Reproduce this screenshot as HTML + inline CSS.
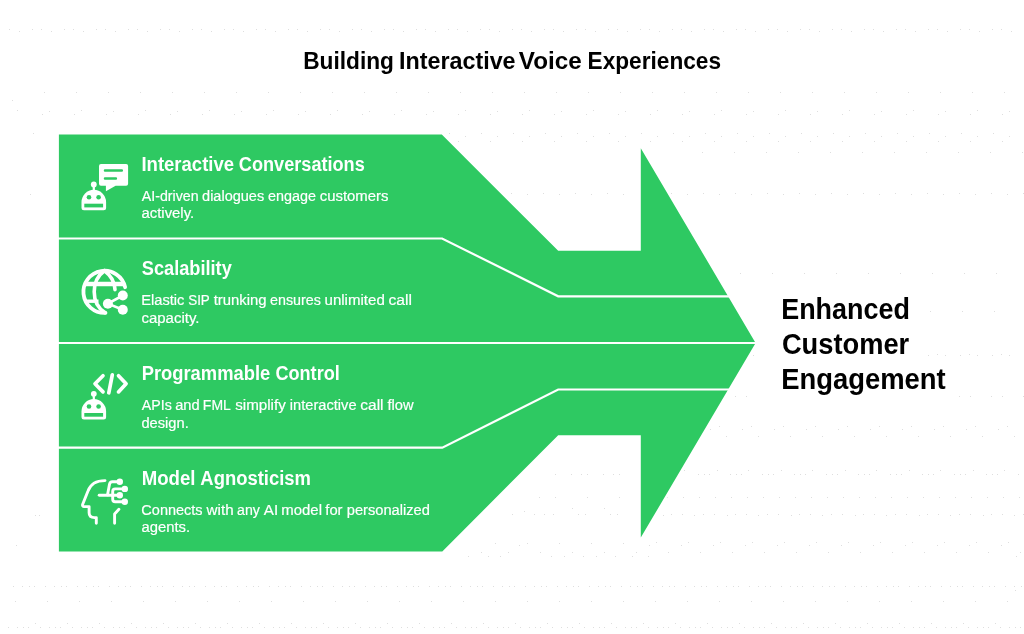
<!DOCTYPE html>
<html>
<head>
<meta charset="utf-8">
<title>Building Interactive Voice Experiences</title>
<style>
  html, body { margin: 0; padding: 0; background: #ffffff; }
  body { width: 1024px; height: 634px; overflow: hidden; font-family: "Liberation Sans", sans-serif; }
  svg { display: block; will-change: transform; }
  text { font-family: "Liberation Sans", sans-serif; }
  .h { font-weight: bold; font-size: 19.5px; fill: #ffffff; }
  .d { font-weight: normal; font-size: 15.3px; fill: #ffffff; stroke: #ffffff; stroke-width: 0.2px; }
  .t { font-weight: bold; font-size: 23.6px; fill: #000000; }
  .r { font-weight: bold; font-size: 30.2px; fill: #000000; }
</style>
</head>
<body>
<svg width="1024" height="634" viewBox="0 0 1024 634">
  <rect x="0" y="0" width="1024" height="634" fill="#ffffff"/>
  <defs>
    <pattern id="dots" x="0" y="0" width="64" height="634" patternUnits="userSpaceOnUse">
      <path fill="#dedede" shape-rendering="crispEdges" d="M0 29h1v1h-1zM9 29h1v1h-1zM32 29h1v1h-1zM41 29h1v1h-1zM19 31h1v1h-1zM51 31h1v1h-1zM12 92h1v1h-1zM44 92h1v1h-1zM17 110h1v1h-1zM49 111h1v1h-1zM10 114h1v1h-1zM42 114h1v1h-1zM1 133h1v1h-1zM33 133h1v1h-1zM17 136h1v1h-1zM49 136h1v1h-1zM10 141h1v1h-1zM42 141h1v1h-1zM30 152h1v1h-1zM62 152h1v1h-1zM31 193h1v1h-1zM63 193h1v1h-1zM15 194h1v1h-1zM47 194h1v1h-1zM4 273h1v1h-1zM36 273h1v1h-1zM2 311h1v1h-1zM34 311h1v1h-1zM9 354h1v1h-1zM41 354h1v1h-1zM0 355h1v1h-1zM17 355h1v1h-1zM32 355h1v1h-1zM49 355h1v1h-1zM10 396h1v1h-1zM31 396h1v1h-1zM42 396h1v1h-1zM63 396h1v1h-1zM15 426h1v1h-1zM47 426h1v1h-1zM6 429h1v1h-1zM38 429h1v1h-1zM22 436h1v1h-1zM54 436h1v1h-1zM13 470h1v1h-1zM44 470h1v1h-1zM0 474h1v1h-1zM5 474h1v1h-1zM26 474h1v1h-1zM32 474h1v1h-1zM37 474h1v1h-1zM58 474h1v1h-1zM11 497h1v1h-1zM27 497h1v1h-1zM43 497h1v1h-1zM59 497h1v1h-1zM10 514h1v1h-1zM31 514h1v1h-1zM42 514h1v1h-1zM63 514h1v1h-1zM23 515h1v1h-1zM54 515h1v1h-1zM16 542h1v1h-1zM48 542h1v1h-1zM9 545h1v1h-1zM41 545h1v1h-1zM28 552h1v1h-1zM60 552h1v1h-1zM2 586h1v1h-1zM13 586h1v1h-1zM22 586h1v1h-1zM29 586h1v1h-1zM34 586h1v1h-1zM45 586h1v1h-1zM54 586h1v1h-1zM61 586h1v1h-1zM15 601h1v1h-1zM47 601h1v1h-1zM3 623h1v1h-1zM35 623h1v1h-1zM8 627h1v1h-1zM17 627h1v1h-1zM23 627h1v1h-1zM28 627h1v1h-1zM40 627h1v1h-1zM49 627h1v1h-1zM55 627h1v1h-1zM60 627h1v1h-1z"/>
    </pattern>
  </defs>
  <rect x="0" y="0" width="1024" height="634" fill="url(#dots)"/>
  <rect x="0" y="125" width="58" height="435" fill="#ffffff"/>
  <rect x="12" y="92" width="1" height="1" fill="#ffffff"/>
  <path fill="#dedede" shape-rendering="crispEdges" d="M1016 556h1v1h-1zM1015 590h1v1h-1zM12 100h1v1h-1zM33 133h1v1h-1zM30 194h1v1h-1zM35 515h1v1h-1zM39 515h1v1h-1zM16 545h1v1h-1z"/>


  <!-- local dot corrections -->
  <rect x="0" y="0" width="7" height="634" fill="#ffffff"/>
  <rect x="10" y="114" width="1" height="1" fill="#ffffff"/>
  <rect x="760" y="290" width="167" height="85" fill="#ffffff"/>
  <rect x="760" y="375" width="198" height="26" fill="#ffffff"/>
  <rect x="440" y="152" width="250" height="1" fill="#ffffff"/>
  <rect x="0" y="552" width="470" height="1" fill="#ffffff"/>
  <rect x="442" y="436" width="199" height="124" fill="#ffffff"/>
  <path fill="#dedede" shape-rendering="crispEdges" d="M555 474h1v1h-1zM571 474h1v1h-1zM581 474h1v1h-1zM587 474h1v1h-1zM603 474h1v1h-1zM613 474h1v1h-1zM619 474h1v1h-1zM539 497h1v1h-1zM555 497h1v1h-1zM587 497h1v1h-1zM619 497h1v1h-1zM572 508h1v1h-1zM604 508h1v1h-1zM524 511h1v1h-1zM512 514h1v1h-1zM534 514h1v1h-1zM544 514h1v1h-1zM553 514h1v1h-1zM578 514h1v1h-1zM585 514h1v1h-1zM610 514h1v1h-1zM617 514h1v1h-1zM495 543h1v1h-1zM527 543h1v1h-1zM559 543h1v1h-1zM591 543h1v1h-1zM623 543h1v1h-1zM519 545h1v1h-1zM481 552h1v1h-1zM508 552h1v1h-1zM540 552h1v1h-1zM572 552h1v1h-1zM604 552h1v1h-1zM636 552h1v1h-1zM468 556h1v1h-1zM488 556h1v1h-1zM500 556h1v1h-1zM551 556h1v1h-1zM564 556h1v1h-1zM583 556h1v1h-1zM596 556h1v1h-1zM615 556h1v1h-1zM632 556h1v1h-1zM648 556h1v1h-1z"/>

  <!-- arrow body -->
  <path fill="#2ec962" stroke="#ffffff" stroke-width="5" paint-order="stroke" d="M58.9 134.5 H441.8 L558.2 250.8 H640.8 V148.2 L755.6 342.9 L640.8 537.6 V435.2 H558.2 L442.3 551.5 H58.9 Z"/>

  <!-- dividers -->
  <g fill="none" stroke="#ffffff" stroke-width="2.2" stroke-linejoin="miter">
    <path d="M58 238.5 H442.1 L558.2 296.3 H729"/>
    <path d="M58 343 H757"/>
    <path d="M58 447.7 H442.3 L558.2 389.5 H729"/>
  </g>






  <!-- TEXT-BEGIN -->
  <text class="t" x="303.18" y="68.8" textLength="90.74" lengthAdjust="spacingAndGlyphs">Building</text>  <!-- stretch 0.961 -->
  <text class="t" x="398.94" y="68.8" textLength="116.66" lengthAdjust="spacingAndGlyphs">Interactive</text>  <!-- stretch 0.988 -->
  <text class="t" x="518.83" y="68.8" textLength="62.89" lengthAdjust="spacingAndGlyphs">Voice</text>  <!-- stretch 1.027 -->
  <text class="t" x="587.59" y="68.8" textLength="133.44" lengthAdjust="spacingAndGlyphs">Experiences</text>  <!-- stretch 0.960 -->
  <text class="h" x="141.46" y="171.0" textLength="92.57" lengthAdjust="spacingAndGlyphs">Interactive</text>  <!-- stretch 0.949 -->
  <text class="h" x="238.86" y="171.0" textLength="125.89" lengthAdjust="spacingAndGlyphs">Conversations</text>  <!-- stretch 0.929 -->
  <text class="d" x="141.77" y="200.6" textLength="56.85" lengthAdjust="spacingAndGlyphs">AI-driven</text>  <!-- stretch 0.929 -->
  <text class="d" x="202.09" y="200.6" textLength="62.13" lengthAdjust="spacingAndGlyphs">dialogues</text>  <!-- stretch 0.949 -->
  <text class="d" x="267.99" y="200.6" textLength="47.95" lengthAdjust="spacingAndGlyphs">engage</text>  <!-- stretch 0.939 -->
  <text class="d" x="319.77" y="200.6" textLength="68.67" lengthAdjust="spacingAndGlyphs">customers</text>  <!-- stretch 0.973 -->
  <text class="d" x="141.47" y="218.2" textLength="52.69" lengthAdjust="spacingAndGlyphs">actively.</text>  <!-- stretch 0.973 -->
  <text class="h" x="141.78" y="275.4" textLength="90.02" lengthAdjust="spacingAndGlyphs">Scalability</text>  <!-- stretch 0.933 -->
  <text class="d" x="141.20" y="305.3" textLength="43.19" lengthAdjust="spacingAndGlyphs">Elastic</text>  <!-- stretch 0.958 -->
  <text class="d" x="188.19" y="305.3" textLength="21.62" lengthAdjust="spacingAndGlyphs">SIP</text>  <!-- stretch 0.877 -->
  <text class="d" x="213.67" y="305.3" textLength="52.88" lengthAdjust="spacingAndGlyphs">trunking</text>  <!-- stretch 0.972 -->
  <text class="d" x="269.99" y="305.3" textLength="50.93" lengthAdjust="spacingAndGlyphs">ensures</text>  <!-- stretch 0.936 -->
  <text class="d" x="324.52" y="305.3" textLength="60.25" lengthAdjust="spacingAndGlyphs">unlimited</text>  <!-- stretch 0.984 -->
  <text class="d" x="388.53" y="305.3" textLength="23.51" lengthAdjust="spacingAndGlyphs">call</text>  <!-- stretch 1.024 -->
  <text class="d" x="141.46" y="322.5" textLength="58.00" lengthAdjust="spacingAndGlyphs">capacity.</text>  <!-- stretch 0.979 -->
  <text class="h" x="141.67" y="380.4" textLength="128.56" lengthAdjust="spacingAndGlyphs">Programmable</text>  <!-- stretch 0.941 -->
  <text class="h" x="275.46" y="380.4" textLength="64.32" lengthAdjust="spacingAndGlyphs">Control</text>  <!-- stretch 0.928 -->
  <text class="d" x="141.77" y="409.6" textLength="30.04" lengthAdjust="spacingAndGlyphs">APIs</text>  <!-- stretch 0.930 -->
  <text class="d" x="175.18" y="409.6" textLength="24.47" lengthAdjust="spacingAndGlyphs">and</text>  <!-- stretch 0.959 -->
  <text class="d" x="202.85" y="409.6" textLength="28.01" lengthAdjust="spacingAndGlyphs">FML</text>  <!-- stretch 0.915 -->
  <text class="d" x="235.18" y="409.6" textLength="50.65" lengthAdjust="spacingAndGlyphs">simplify</text>  <!-- stretch 0.993 -->
  <text class="d" x="289.82" y="409.6" textLength="66.73" lengthAdjust="spacingAndGlyphs">interactive</text>  <!-- stretch 0.957 -->
  <text class="d" x="360.34" y="409.6" textLength="23.19" lengthAdjust="spacingAndGlyphs">call</text>  <!-- stretch 1.010 -->
  <text class="d" x="387.49" y="409.6" textLength="26.17" lengthAdjust="spacingAndGlyphs">flow</text>  <!-- stretch 0.962 -->
  <text class="d" x="141.48" y="427.7" textLength="47.25" lengthAdjust="spacingAndGlyphs">design.</text>  <!-- stretch 0.958 -->
  <text class="h" x="141.65" y="485.0" textLength="53.87" lengthAdjust="spacingAndGlyphs">Model</text>  <!-- stretch 0.956 -->
  <text class="h" x="200.34" y="485.0" textLength="110.60" lengthAdjust="spacingAndGlyphs">Agnosticism</text>  <!-- stretch 0.945 -->
  <text class="d" x="141.36" y="514.6" textLength="61.26" lengthAdjust="spacingAndGlyphs">Connects</text>  <!-- stretch 0.948 -->
  <text class="d" x="206.62" y="514.6" textLength="26.96" lengthAdjust="spacingAndGlyphs">with</text>  <!-- stretch 0.991 -->
  <text class="d" x="237.10" y="514.6" textLength="22.83" lengthAdjust="spacingAndGlyphs">any</text>  <!-- stretch 0.925 -->
  <text class="d" x="263.87" y="514.6" textLength="14.33" lengthAdjust="spacingAndGlyphs">AI</text>  <!-- stretch 0.991 -->
  <text class="d" x="281.31" y="514.6" textLength="40.69" lengthAdjust="spacingAndGlyphs">model</text>  <!-- stretch 0.976 -->
  <text class="d" x="325.29" y="514.6" textLength="17.25" lengthAdjust="spacingAndGlyphs">for</text>  <!-- stretch 0.966 -->
  <text class="d" x="346.75" y="514.6" textLength="83.19" lengthAdjust="spacingAndGlyphs">personalized</text>  <!-- stretch 0.959 -->
  <text class="d" x="141.47" y="531.9" textLength="48.58" lengthAdjust="spacingAndGlyphs">agents.</text>  <!-- stretch 0.968 -->
  <text class="r" x="781.20" y="318.8" textLength="128.78" lengthAdjust="spacingAndGlyphs">Enhanced</text>  <!-- stretch 0.892 -->
  <text class="r" x="781.88" y="353.7" textLength="127.33" lengthAdjust="spacingAndGlyphs">Customer</text>  <!-- stretch 0.903 -->
  <text class="r" x="781.17" y="388.5" textLength="164.57" lengthAdjust="spacingAndGlyphs">Engagement</text>  <!-- stretch 0.908 -->
  <!-- TEXT-END -->

  <!-- ICONS -->
  <!-- icon 1: robot + chat bubble -->
  <g fill="#ffffff">
    <circle cx="93.8" cy="184.5" r="2.9"/>
    <rect x="92.7" y="185" width="2.2" height="6"/>
    <path d="M81.5 202.1 A12.3 12.3 0 0 1 106.1 202.1 V207.8 A2.5 2.5 0 0 1 103.6 210.3 H84 A2.5 2.5 0 0 1 81.5 207.8 Z"/>
    <circle cx="89" cy="197.2" r="2.3" fill="#2ec962"/>
    <circle cx="98.6" cy="197.2" r="2.3" fill="#2ec962"/>
    <rect x="84.3" y="203.7" width="18.8" height="3.7" fill="#2ec962"/>
  </g>
  <g>
    <path fill="#ffffff" d="M101 164 H126.1 A2 2 0 0 1 128.1 166 V183.7 A2 2 0 0 1 126.1 185.7 H115.6 L105.9 191.2 V185.7 H101 A2 2 0 0 1 99 183.7 V166 A2 2 0 0 1 101 164 Z"/>
    <path stroke="#2ec962" stroke-width="2.5" stroke-linecap="round" fill="none" d="M105 170.6 H121.8 M105 178.4 H115.9"/>
  </g>

  <!-- icon 2: globe + share -->
  <g fill="none" stroke="#ffffff" stroke-linecap="round">
    <!-- outer circle (partial) : center 104.5,291.8 r 21.1 -->
    <path stroke-width="3.8" d="M125.1 287.2 A21.1 21.1 0 1 0 105.5 312.9"/>
    <!-- meridian left full, right partial -->
    <path stroke-width="3.6" d="M104.5 270.7 C97 276 94.2 284 94.2 291.8 C94.2 300 97.5 308 105 312.6"/>
    <path stroke-width="3.6" d="M104.5 270.7 C111 275.5 114.6 282 115 289.6"/>
    <!-- latitudes -->
    <path stroke-width="4.4" stroke-linecap="butt" d="M85 284 H124.5"/>
    <path stroke-width="3.4" stroke-linecap="butt" d="M85.5 301.2 H98.5"/>
    <!-- share links -->
    <path stroke-width="2.6" d="M122.8 295.5 L107.9 303.7 L122.8 309.8"/>
  </g>
  <g fill="#ffffff">
    <circle cx="122.8" cy="295.5" r="5"/>
    <circle cx="107.9" cy="303.7" r="5"/>
    <circle cx="122.8" cy="309.8" r="5"/>
  </g>

  <!-- icon 3: robot + code -->
  <g fill="#ffffff" transform="translate(0 209.3)">
    <circle cx="93.8" cy="184.5" r="2.9"/>
    <rect x="92.7" y="185" width="2.2" height="6"/>
    <path d="M81.5 202.1 A12.3 12.3 0 0 1 106.1 202.1 V207.8 A2.5 2.5 0 0 1 103.6 210.3 H84 A2.5 2.5 0 0 1 81.5 207.8 Z"/>
    <circle cx="89" cy="197.2" r="2.3" fill="#2ec962"/>
    <circle cx="98.6" cy="197.2" r="2.3" fill="#2ec962"/>
    <rect x="84.3" y="203.7" width="18.8" height="3.7" fill="#2ec962"/>
  </g>
  <g fill="none" stroke="#ffffff" stroke-width="3.7" stroke-linecap="round" stroke-linejoin="round">
    <path d="M103 375.8 L95 383.8 L103 391.9"/>
    <path d="M112.3 374.8 L108.8 392.8"/>
    <path d="M118.5 375.8 L126.1 383.8 L118.5 391.9"/>
  </g>

  <!-- icon 4: head + circuit -->
  <g fill="none" stroke="#ffffff" stroke-width="2.9" stroke-linecap="round" stroke-linejoin="round">
    <path d="M105 480.6 C97.5 480.6 91 482.5 88 491 L82.6 504.5 C82.3 505.7 82.9 506.6 84 506.6 H89.1 V512.8 C89.1 516 91.5 517.6 94.5 517.6 H96.3 V523.3"/>
    <path d="M118.9 509.3 L114.6 513.9 V523.3"/>
    <path d="M99.2 495.3 H118.9"/>
    <path d="M119.7 481.7 H112.4 C110.7 481.7 109.8 482.6 109.5 484.3 L107.5 494.9"/>
    <path d="M124.8 488.9 H115.2 A2.5 2.5 0 0 0 112.7 491.4 V499.2 A2.5 2.5 0 0 0 115.2 501.7 H124.8"/>
  </g>
  <g fill="#ffffff">
    <circle cx="119.8" cy="481.7" r="3.2"/>
    <circle cx="124.8" cy="488.9" r="3.2"/>
    <circle cx="119.8" cy="495.3" r="3.2"/>
    <circle cx="124.8" cy="501.7" r="3.2"/>
  </g>
</svg>
</body>
</html>
